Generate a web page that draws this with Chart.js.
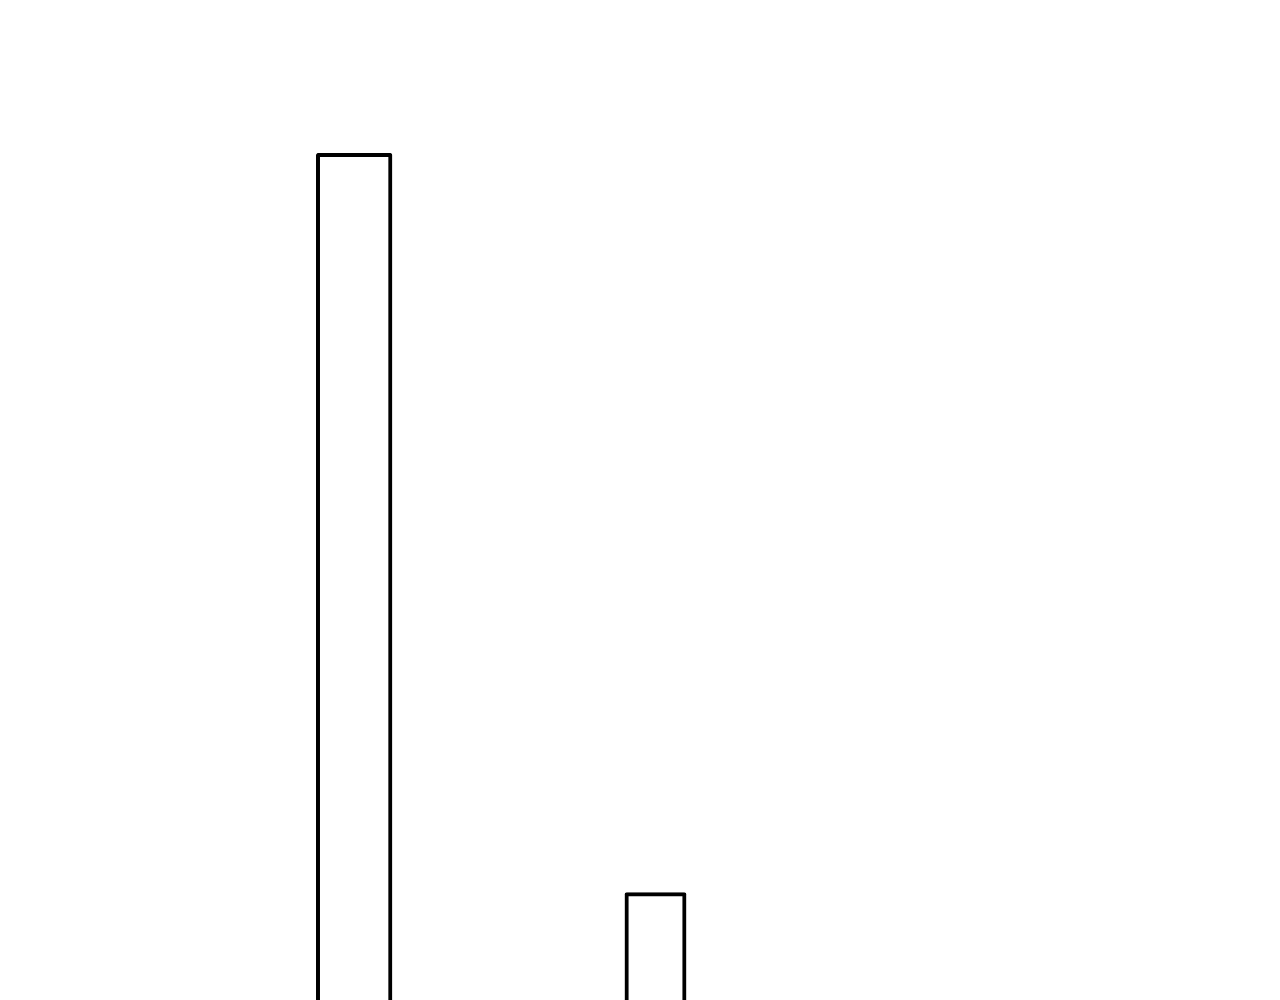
<!DOCTYPE html>
<html>
<head>
<meta charset="utf-8">
<script src="https://cdn.jsdelivr.net/npm/chart.js@4.4.1/dist/chart.umd.min.js"></script>
<style>
  html, body { margin: 0; padding: 0; background: #ffffff; overflow: hidden; }
  #wrap { width: 1280px; height: 1296px; }
</style>
</head>
<body>
<div id="wrap"><canvas id="c" width="1280" height="1296"></canvas></div>
<script>
const categories = ['A', 'B', 'C'];
const seriesTall = [85, null, null];
const seriesShort = [null, 30, null];
const yMin = 0;
const yMax = 96.4;

const ctx = document.getElementById('c');
new Chart(ctx, {
  type: 'bar',
  data: {
    labels: categories,
    datasets: [
      {
        label: 'Tall',
        data: seriesTall,
        backgroundColor: '#ffffff',
        borderColor: '#000000',
        borderWidth: 4,
        borderRadius: 2,
        borderSkipped: 'start',
        barThickness: 75.7
      },
      {
        label: 'Short',
        data: seriesShort,
        backgroundColor: '#ffffff',
        borderColor: '#000000',
        borderWidth: 4,
        borderRadius: 2,
        borderSkipped: 'start',
        barThickness: 61.2
      }
    ]
  },
  options: {
    responsive: false,
    animation: false,
    devicePixelRatio: 1,
    layout: { padding: { left: 203.5, right: 172.5, top: 0, bottom: 0 } },
    datasets: { bar: { grouped: false } },
    plugins: { legend: { display: false }, tooltip: { enabled: false }, title: { display: false } },
    scales: {
      x: { display: false, offset: true },
      y: { display: false, min: yMin, max: yMax }
    }
  }
});
</script>
</body>
</html>
